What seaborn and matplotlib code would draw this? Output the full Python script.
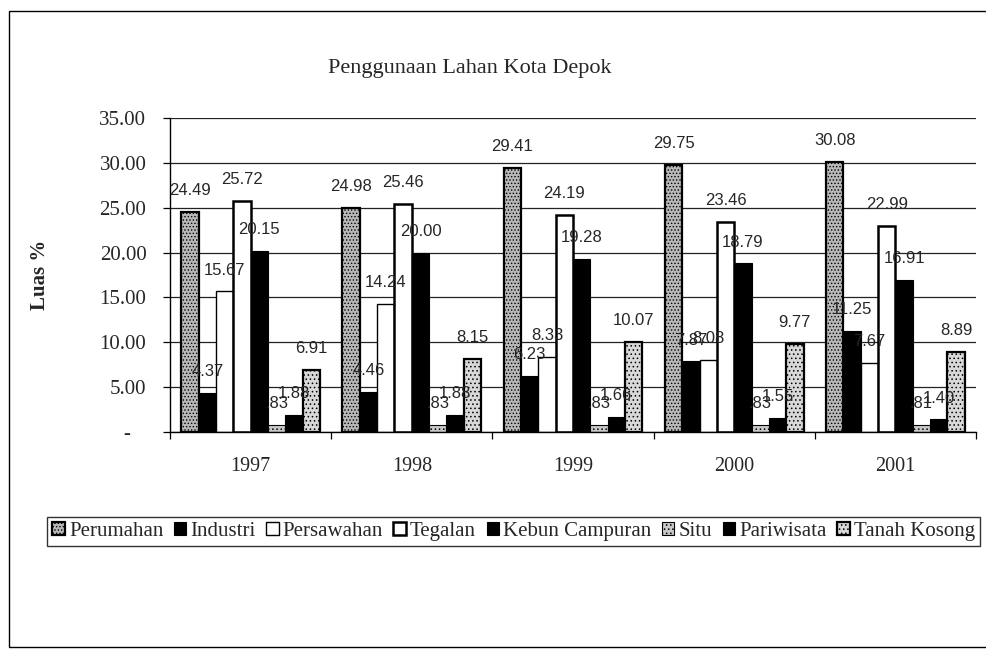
import pandas as pd
import seaborn as sns
import matplotlib.pyplot as plt
from matplotlib.patches import Rectangle
from matplotlib.ticker import FixedLocator, FixedFormatter

# data penggunaan lahan (%) per tahun
tahun = ['1997', '1998', '1999', '2000', '2001']
kategori = ['Perumahan', 'Industri', 'Persawahan', 'Tegalan',
            'Kebun Campuran', 'Situ', 'Pariwisata', 'Tanah Kosong']
perumahan = [24.49, 24.98, 29.41, 29.75, 30.08]
industri = [4.37, 4.46, 6.23, 7.87, 11.25]
persawahan = [15.67, 14.24, 8.33, 8.08, 7.67]
tegalan = [25.72, 25.46, 24.19, 23.46, 22.99]
kebun_campuran = [20.15, 20.00, 19.28, 18.79, 16.91]
situ = [0.83, 0.83, 0.83, 0.83, 0.81]
pariwisata = [1.88, 1.88, 1.66, 1.55, 1.40]
tanah_kosong = [6.91, 8.15, 10.07, 9.77, 8.89]
y_ticks = [0, 5, 10, 15, 20, 25, 30, 35]
y_labels = ['-   ', '5.00', '10.00', '15.00', '20.00', '25.00', '30.00', '35.00']

series = [perumahan, industri, persawahan, tegalan,
          kebun_campuran, situ, pariwisata, tanah_kosong]
rows = []
for nama, vals in zip(kategori, series):
    for t, v in zip(tahun, vals):
        rows.append({'Tahun': t, 'Kategori': nama, 'Luas': v})
df = pd.DataFrame(rows)

sns.set_style('white')
plt.rcParams['font.family'] = ['Liberation Serif', 'DejaVu Serif']
plt.rcParams['hatch.linewidth'] = 0.6

# gaya tiap kategori: (warna isi, hatch, tebal garis)
gaya = {
    'Perumahan': ('#b8b8b8', '.....', 1.6),
    'Industri': ('black', '', 0.8),
    'Persawahan': ('white', '', 1.0),
    'Tegalan': ('white', '', 1.8),
    'Kebun Campuran': ('black', '', 0.8),
    'Situ': ('#c8c8c8', '....', 0.8),
    'Pariwisata': ('black', '', 0.8),
    'Tanah Kosong': ('#d8d8d8', '....', 1.6),
}
palette = {k: v[0] for k, v in gaya.items()}

fig = plt.figure(figsize=(9.87, 6.5), dpi=100)
ax = fig.add_axes([170/987, 1-432/650, (976-170)/987, (432-118)/650])

sns.barplot(data=df, x='Tahun', y='Luas', hue='Kategori', hue_order=kategori,
            order=tahun, palette=palette, width=0.86, gap=0, saturation=1,
            edgecolor='black', legend=False, ax=ax)

for nama, cont in zip(kategori, ax.containers):
    warna, hatch, lw = gaya[nama]
    for bar in cont:
        bar.set_facecolor(warna)
        bar.set_edgecolor('black')
        bar.set_hatch(hatch)
        bar.set_linewidth(lw)
    teks = [f'{v:.2f}'.lstrip('0') for v in cont.datavalues]
    ax.bar_label(cont, labels=teks, padding=10, fontsize=12,
                 family='Liberation Sans')

ax.set_ylim(0, 35)
ax.set_xlim(-0.5, 4.5)
ax.yaxis.set_major_locator(FixedLocator(y_ticks))
ax.yaxis.set_major_formatter(FixedFormatter(y_labels))
ax.xaxis.set_minor_locator(FixedLocator([-0.5, 0.5, 1.5, 2.5, 3.5, 4.5]))
ax.grid(axis='y', color='#222222', linewidth=0.9)
ax.set_axisbelow(True)
ax.tick_params(axis='y', which='major', direction='out', length=5, width=0.9,
               labelsize=15, pad=12, left=True, color='black')
ax.tick_params(axis='x', which='major', length=0, pad=18, labelsize=14.5)
ax.tick_params(axis='x', which='minor', direction='out', length=5, width=0.9,
               bottom=True, color='black')
for s in ['top', 'right']:
    ax.spines[s].set_visible(False)
for s in ['left', 'bottom']:
    ax.spines[s].set_color('black')
    ax.spines[s].set_linewidth(1.0)
ax.set_xlabel('')
ax.set_ylabel('')

fig.text(470/987, 1-68/650, 'Penggunaan Lahan Kota Depok', ha='center',
         va='center', fontsize=16)
fig.text(40/987, 1-275/650, 'Luas %', rotation=90, ha='center', va='center',
         fontsize=15, fontweight='bold')

fig.legend(handles=list(ax.containers), labels=kategori, ncol=8,
           loc='upper left', bbox_to_anchor=(47/987, 1-517/650),
           frameon=True, fancybox=False, edgecolor='black', fontsize=15,
           handlelength=0.6, handleheight=0.6, handletextpad=0.2,
           columnspacing=0.5, borderpad=0.25, borderaxespad=0)

# bingkai luar area grafik
fig.patches.append(Rectangle((9/987, 3/650), 1.2, 1-14/650, transform=fig.transFigure,
                             fill=False, edgecolor='black', linewidth=1.0))

fig.savefig('out.png', dpi=100)
